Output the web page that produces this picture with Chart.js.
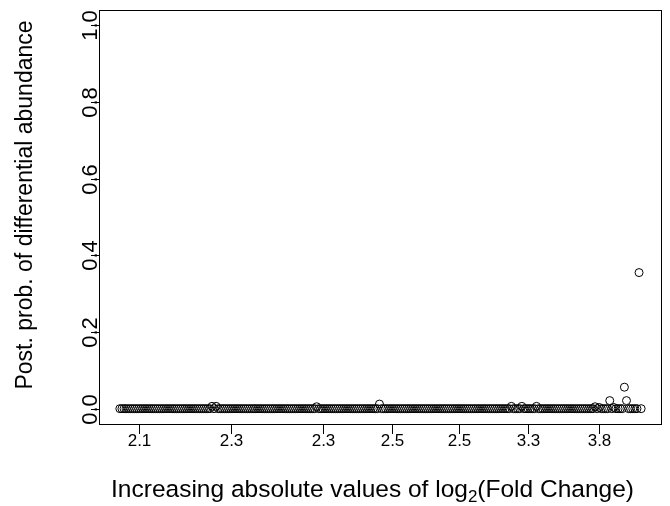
<!DOCTYPE html>
<html>
<head>
<meta charset="utf-8">
<title>Posterior probability plot</title>
<script src="https://cdn.jsdelivr.net/npm/chart.js@4.4.1/dist/chart.umd.min.js"></script>
<style>
  html, body { margin: 0; padding: 0; background: #fff; }
  #plot { display: block; }
</style>
</head>
<body>
<canvas id="plot" width="670" height="506"></canvas>
<script>
'use strict';

// posterior probabilities, ordered by increasing |log2 fold change|
var postProb = [
  0, 0, 0, 0, 0, 0, 0, 0, 0, 0, 0, 0, 0, 0, 0, 0, 0, 0, 0, 0, 0, 0, 0, 0, 0,
  0, 0, 0, 0, 0, 0, 0, 0, 0, 0, 0, 0, 0, 0, 0, 0, 0, 0, 0, 0.006, 0, 0.006, 0, 0, 0,
  0, 0, 0, 0, 0, 0, 0, 0, 0, 0, 0, 0, 0, 0, 0, 0, 0, 0, 0, 0, 0, 0, 0, 0, 0,
  0, 0, 0, 0, 0, 0, 0, 0, 0, 0, 0, 0, 0, 0, 0, 0, 0, 0, 0, 0.005, 0, 0, 0, 0, 0,
  0, 0, 0, 0, 0, 0, 0, 0, 0, 0, 0, 0, 0, 0, 0, 0, 0, 0, 0, 0, 0, 0, 0, 0, 0.012,
  0, 0, 0, 0, 0, 0, 0, 0, 0, 0, 0, 0, 0, 0, 0, 0, 0, 0, 0, 0, 0, 0, 0, 0, 0,
  0, 0, 0, 0, 0, 0, 0, 0, 0, 0, 0, 0, 0, 0, 0, 0, 0, 0, 0, 0, 0, 0, 0, 0, 0,
  0, 0, 0, 0, 0, 0, 0, 0, 0, 0, 0, 0, 0.006, 0, 0, 0, 0, 0.006, 0, 0, 0, 0, 0, 0, 0.006,
  0, 0, 0, 0, 0, 0, 0, 0, 0, 0, 0, 0, 0, 0, 0, 0, 0, 0, 0, 0, 0, 0, 0, 0, 0,
  0, 0, 0.005, 0, 0.003, 0, 0, 0, 0, 0.021, 0, 0.003, 0, 0, 0, 0, 0.056, 0.021, 0, 0, 0, 0, 0, 0.355, 0
];

// axis ticks (x ticks sit at feature ranks, labelled with the fold change)
var xTickRanks = [10, 54, 98, 131, 163, 196, 230];
var xTickLabels = ['2.1', '2.3', '2.3', '2.5', '2.5', '3.3', '3.8'];
var yTickValues = [0, 0.2, 0.4, 0.6, 0.8, 1.0];
var yTickLabels = ['0.0', '0.2', '0.4', '0.6', '0.8', '1.0'];

var xTitle = 'Increasing absolute values of log';
var xTitleSub = '2';
var xTitleEnd = '(Fold Change)';
var yTitle = 'Post. prob. of differential abundance';

var fontFamily = '"Liberation Sans", Arial, Helvetica, sans-serif';

var points = postProb.map(function (v, i) {
  return { x: i + 1, y: v };
});

// R style: axes extended 4% past the data range
var n = postProb.length;
var xPad = 0.04 * (n - 1);

// frame, ticks, labels and titles in base graphics style
var baseAxes = {
  id: 'baseAxes',
  afterDraw: function (chart) {
    var ctx = chart.ctx;
    var area = chart.chartArea;
    var xs = chart.scales.x;
    var ys = chart.scales.y;

    ctx.save();
    ctx.strokeStyle = '#000';
    ctx.lineWidth = 1;
    ctx.strokeRect(Math.round(area.left) + 0.5, Math.round(area.top) + 0.5,
      Math.round(area.right - area.left) - 1, Math.round(area.bottom - area.top));

    // x ticks
    ctx.fillStyle = '#000';
    ctx.font = '17px ' + fontFamily;
    ctx.textAlign = 'center';
    ctx.textBaseline = 'alphabetic';
    xTickRanks.forEach(function (r, i) {
      var px = Math.round(xs.getPixelForValue(r)) + 0.5;
      ctx.beginPath();
      ctx.moveTo(px, area.bottom);
      ctx.lineTo(px, area.bottom + 10);
      ctx.stroke();
      ctx.fillText(xTickLabels[i], px, area.bottom + 22);
    });

    // y ticks, labels turned parallel to the axis
    ctx.font = '22px ' + fontFamily;
    yTickValues.forEach(function (v, i) {
      var py = Math.round(ys.getPixelForValue(v)) + 0.5;
      ctx.beginPath();
      ctx.moveTo(area.left, py);
      ctx.lineTo(area.left - 8, py);
      ctx.stroke();
      ctx.save();
      ctx.translate(area.left - 2, py);
      ctx.rotate(-Math.PI / 2);
      ctx.fillText(yTickLabels[i], 0, 0);
      ctx.restore();
    });

    // x title with subscript 2
    var big = '24.5px ' + fontFamily;
    var small = '17px ' + fontFamily;
    ctx.font = big;
    var w1 = ctx.measureText(xTitle).width;
    var w3 = ctx.measureText(xTitleEnd).width;
    ctx.font = small;
    var w2 = ctx.measureText(xTitleSub).width;
    var total = w1 + w2 + w3;
    var cx = (area.left + area.right) / 2 - 8;
    var x0 = cx - total / 2;
    var base = 497;
    ctx.textAlign = 'left';
    ctx.font = big;
    ctx.fillText(xTitle, x0, base);
    ctx.font = small;
    ctx.fillText(xTitleSub, x0 + w1, base + 5);
    ctx.font = big;
    ctx.fillText(xTitleEnd, x0 + w1 + w2, base);

    // y title
    ctx.save();
    ctx.translate(32, (area.top + area.bottom) / 2 - 12);
    ctx.rotate(-Math.PI / 2);
    ctx.textAlign = 'center';
    ctx.font = '23px ' + fontFamily;
    ctx.fillText(yTitle, 0, 0);
    ctx.restore();

    ctx.restore();
  }
};

var chart = new Chart(document.getElementById('plot').getContext('2d'), {
  type: 'scatter',
  data: {
    datasets: [{
      label: 'Posterior probability',
      data: points,
      pointStyle: 'circle',
      pointRadius: 4,
      pointBorderWidth: 1,
      pointBorderColor: '#000',
      pointBackgroundColor: 'rgba(0,0,0,0)',
      showLine: false
    }]
  },
  options: {
    responsive: false,
    animation: false,
    layout: {
      padding: { left: 99, right: 8, top: 10, bottom: 82 }
    },
    plugins: {
      legend: { display: false },
      tooltip: { enabled: false }
    },
    scales: {
      x: {
        type: 'linear',
        display: false,
        min: 1 - xPad,
        max: n + xPad
      },
      y: {
        type: 'linear',
        display: false,
        min: -0.04,
        max: 1.04
      }
    }
  },
  plugins: [baseAxes]
});
</script>
</body>
</html>
